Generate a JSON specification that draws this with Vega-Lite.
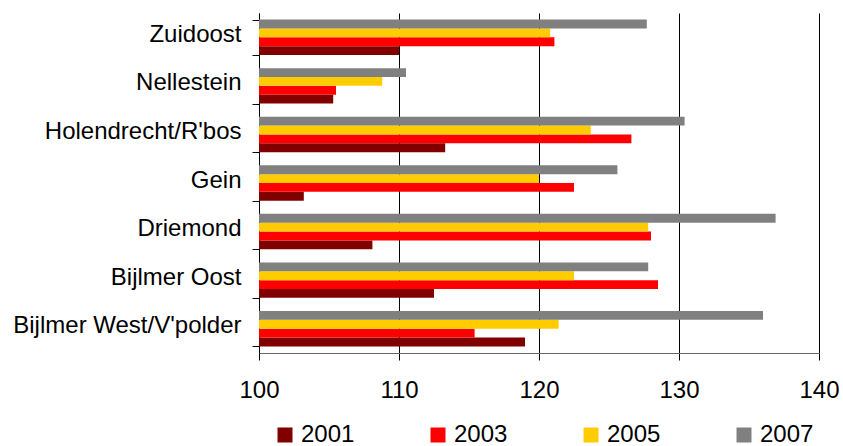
{
  "$schema": "https://vega.github.io/schema/vega-lite/v6.json",
  "autosize": {"type": "none"},
  "padding": {"left": 259, "top": 13, "right": 24, "bottom": 93},
  "width": 560,
  "height": 340,
  "background": "white",
  "config": {
    "view": {"stroke": null},
    "font": "Liberation Sans",
    "axis": {"labelFont": "Liberation Sans", "labelColor": "#000", "labelFontSize": 24, "title": null}
  },
  "data": {
    "values": [
      {"region": "Zuidoost", "year": "2001", "value": 110.0},
      {"region": "Zuidoost", "year": "2003", "value": 121.1},
      {"region": "Zuidoost", "year": "2005", "value": 120.8},
      {"region": "Zuidoost", "year": "2007", "value": 127.7},
      {"region": "Nellestein", "year": "2001", "value": 105.3},
      {"region": "Nellestein", "year": "2003", "value": 105.5},
      {"region": "Nellestein", "year": "2005", "value": 108.8},
      {"region": "Nellestein", "year": "2007", "value": 110.5},
      {"region": "Holendrecht/R'bos", "year": "2001", "value": 113.3},
      {"region": "Holendrecht/R'bos", "year": "2003", "value": 126.6},
      {"region": "Holendrecht/R'bos", "year": "2005", "value": 123.7},
      {"region": "Holendrecht/R'bos", "year": "2007", "value": 130.4},
      {"region": "Gein", "year": "2001", "value": 103.2},
      {"region": "Gein", "year": "2003", "value": 122.5},
      {"region": "Gein", "year": "2005", "value": 120.0},
      {"region": "Gein", "year": "2007", "value": 125.6},
      {"region": "Driemond", "year": "2001", "value": 108.1},
      {"region": "Driemond", "year": "2003", "value": 128.0},
      {"region": "Driemond", "year": "2005", "value": 127.8},
      {"region": "Driemond", "year": "2007", "value": 136.9},
      {"region": "Bijlmer Oost", "year": "2001", "value": 112.5},
      {"region": "Bijlmer Oost", "year": "2003", "value": 128.5},
      {"region": "Bijlmer Oost", "year": "2005", "value": 122.5},
      {"region": "Bijlmer Oost", "year": "2007", "value": 127.8},
      {"region": "Bijlmer West/V'polder", "year": "2001", "value": 119.0},
      {"region": "Bijlmer West/V'polder", "year": "2003", "value": 115.4},
      {"region": "Bijlmer West/V'polder", "year": "2005", "value": 121.4},
      {"region": "Bijlmer West/V'polder", "year": "2007", "value": 136.0}
    ]
  },
  "mark": {"type": "bar", "clip": true},
  "encoding": {
    "y": {
      "field": "region",
      "type": "nominal",
      "sort": ["Zuidoost", "Nellestein", "Holendrecht/R'bos", "Gein", "Driemond", "Bijlmer Oost", "Bijlmer West/V'polder"],
      "scale": {"paddingInner": 0.27, "paddingOuter": 0.135},
      "axis": {
        "tickBand": "extent",
        "tickSize": 7,
        "tickColor": "#000",
        "domainColor": "#000",
        "labelPadding": 11,
        "labelOffset": -3,
        "labelLimit": 300,
        "grid": false
      }
    },
    "yOffset": {
      "field": "year",
      "type": "nominal",
      "scale": {"domain": ["2007", "2005", "2003", "2001"], "paddingInner": 0, "paddingOuter": 0}
    },
    "x": {
      "field": "value",
      "type": "quantitative",
      "scale": {"domain": [100, 140], "zero": false, "nice": false},
      "axis": {
        "values": [100, 110, 120, 130, 140],
        "tickSize": 7,
        "tickColor": "#000",
        "domainColor": "#666",
        "grid": true,
        "gridColor": "#000",
        "gridOpacity": 1,
        "gridWidth": 1,
        "labelFlush": false,
        "labelPadding": 18
      }
    },
    "x2": {"datum": 100},
    "color": {
      "field": "year",
      "type": "nominal",
      "scale": {"domain": ["2001", "2003", "2005", "2007"], "range": ["#800000", "#FF0000", "#FFCC00", "#808080"]},
      "legend": {
        "title": null,
        "orient": "none",
        "legendX": 14,
        "legendY": 410,
        "direction": "horizontal",
        "columns": 4,
        "columnPadding": 71,
        "padding": 0,
        "symbolType": "square",
        "symbolSize": 225,
        "symbolStrokeWidth": 0,
        "symbolOpacity": 1,
        "labelFont": "Liberation Sans",
        "labelFontSize": 24,
        "labelColor": "#000",
        "labelOffset": 4
      }
    }
  }
}
